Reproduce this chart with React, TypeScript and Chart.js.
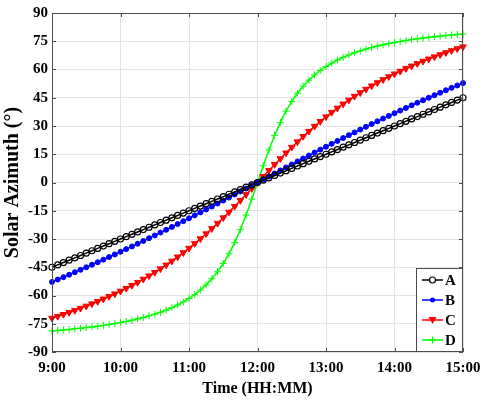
import React, { useEffect, useRef } from "react";
import { Chart, registerables } from "chart.js";

Chart.register(...registerables);

const times = [
  "9:00","9:05","9:10","9:15","9:20","9:25","9:30","9:35","9:40","9:45","9:50","9:55",
  "10:00","10:05","10:10","10:15","10:20","10:25","10:30","10:35","10:40","10:45","10:50","10:55",
  "11:00","11:05","11:10","11:15","11:20","11:25","11:30","11:35","11:40","11:45","11:50","11:55",
  "12:00","12:05","12:10","12:15","12:20","12:25","12:30","12:35","12:40","12:45","12:50","12:55",
  "13:00","13:05","13:10","13:15","13:20","13:25","13:30","13:35","13:40","13:45","13:50","13:55",
  "14:00","14:05","14:10","14:15","14:20","14:25","14:30","14:35","14:40","14:45","14:50","14:55",
  "15:00",
];

const hourLabels = ["9:00", "10:00", "11:00", "12:00", "13:00", "14:00", "15:00"];
const yTicks = [-90, -75, -60, -45, -30, -15, 0, 15, 30, 45, 60, 75, 90];

const seriesA = [
  -45, -43.75, -42.5, -41.25, -40, -38.75, -37.5, -36.25, -35, -33.75, -32.5, -31.25,
  -30, -28.75, -27.5, -26.25, -25, -23.75, -22.5, -21.25, -20, -18.75, -17.5, -16.25,
  -15, -13.75, -12.5, -11.25, -10, -8.75, -7.5, -6.25, -5, -3.75, -2.5, -1.25,
  0, 1.25, 2.5, 3.75, 5, 6.25, 7.5, 8.75, 10, 11.25, 12.5, 13.75,
  15, 16.25, 17.5, 18.75, 20, 21.25, 22.5, 23.75, 25, 26.25, 27.5, 28.75,
  30, 31.25, 32.5, 33.75, 35, 36.25, 37.5, 38.75, 40, 41.25, 42.5, 43.75,
  45,
];

const seriesB = [
  -52.79, -51.53, -50.25, -48.96, -47.65, -46.34, -45.01, -43.67, -42.33, -40.96, -39.58, -38.19,
  -36.78, -35.37, -33.94, -32.5, -31.04, -29.57, -28.1, -26.61, -25.11, -23.6, -22.07, -20.54,
  -19.0, -17.45, -15.89, -14.32, -12.75, -11.17, -9.59, -8.0, -6.4, -4.8, -3.2, -1.6,
  0, 1.6, 3.2, 4.8, 6.4, 8.0, 9.59, 11.17, 12.75, 14.32, 15.89, 17.45,
  19.0, 20.54, 22.07, 23.6, 25.11, 26.61, 28.1, 29.57, 31.04, 32.5, 33.94, 35.37,
  36.78, 38.19, 39.58, 40.96, 42.33, 43.67, 45.01, 46.34, 47.65, 48.96, 50.25, 51.53,
  52.79,
];

const seriesC = [
  -72.06, -71.06, -70.03, -68.97, -67.89, -66.75, -65.59, -64.4, -63.16, -61.86, -60.52, -59.12,
  -57.68, -56.18, -54.62, -53.0, -51.31, -49.55, -47.7, -45.79, -43.79, -41.7, -39.52, -37.25,
  -34.89, -32.42, -29.86, -27.21, -24.47, -21.63, -18.72, -15.72, -12.66, -9.55, -6.39, -3.2,
  0, 3.2, 6.39, 9.55, 12.66, 15.72, 18.72, 21.63, 24.47, 27.21, 29.86, 32.42,
  34.89, 37.25, 39.52, 41.7, 43.79, 45.79, 47.7, 49.55, 51.31, 53.0, 54.62, 56.18,
  57.68, 59.12, 60.52, 61.86, 63.16, 64.4, 65.59, 66.75, 67.89, 68.97, 70.03, 71.06,
  72.06,
];

const seriesD = [
  -78.8, -78.55, -78.29, -78.01, -77.71, -77.39, -77.05, -76.68, -76.28, -75.86, -75.4, -74.9,
  -74.36, -73.77, -73.13, -72.44, -71.67, -70.83, -69.9, -68.88, -67.74, -66.46, -65.04, -63.42,
  -61.59, -59.5, -57.1, -54.34, -51.12, -47.38, -43.0, -37.87, -31.91, -25.04, -17.31, -8.86,
  0, 8.86, 17.31, 25.04, 31.91, 37.87, 43.0, 47.38, 51.12, 54.34, 57.1, 59.5,
  61.59, 63.42, 65.04, 66.46, 67.74, 68.88, 69.9, 70.83, 71.67, 72.44, 73.13, 73.77,
  74.36, 74.9, 75.4, 75.86, 76.28, 76.68, 77.05, 77.39, 77.71, 78.01, 78.29, 78.55,
  78.8,
];

const seriesNames = ["A", "B", "C", "D"];

const FONT = "'Liberation Serif', 'Times New Roman', serif";

function toMinutes(t: string): number {
  const [h, m] = t.split(":").map(Number);
  return (h - 9) * 60 + m;
}

type MarkerKind = "circle" | "dot" | "tri" | "plus";

function drawMarker(ctx: CanvasRenderingContext2D, kind: MarkerKind, color: string, x: number, y: number) {
  ctx.save();
  ctx.strokeStyle = color;
  ctx.fillStyle = color;
  ctx.lineWidth = 1.2;
  ctx.beginPath();
  if (kind === "circle") {
    ctx.arc(x, y, 3, 0, Math.PI * 2);
    ctx.fillStyle = "#fff";
    ctx.fill();
    ctx.stroke();
  } else if (kind === "dot") {
    ctx.arc(x, y, 2.5, 0, Math.PI * 2);
    ctx.fill();
  } else if (kind === "tri") {
    ctx.moveTo(x - 4, y - 3);
    ctx.lineTo(x + 4, y - 3);
    ctx.lineTo(x, y + 4);
    ctx.closePath();
    ctx.fill();
  } else {
    ctx.moveTo(x - 3.5, y);
    ctx.lineTo(x + 3.5, y);
    ctx.moveTo(x, y - 3.5);
    ctx.lineTo(x, y + 3.5);
    ctx.stroke();
  }
  ctx.restore();
}

const markerKinds: MarkerKind[] = ["circle", "dot", "tri", "plus"];
const colors = ["#000000", "#0000ff", "#ff0000", "#00ff00"];

const boxPlugin = {
  id: "boxPlugin",
  afterDatasetsDraw(chart: any) {
    const { ctx, chartArea } = chart;
    const { left, right, top, bottom } = chartArea;
    const xs = chart.scales.x;
    const ys = chart.scales.y;
    ctx.save();
    ctx.strokeStyle = "#4d4d4d";
    ctx.lineWidth = 1;
    ctx.strokeRect(left + 0.5, top + 0.5, right - left - 1, bottom - top - 1);
    ctx.beginPath();
    const tl = 4;
    hourLabels.forEach((_, i) => {
      const px = Math.round(xs.getPixelForValue(i * 60)) + 0.5;
      ctx.moveTo(px, bottom);
      ctx.lineTo(px, bottom - tl);
      ctx.moveTo(px, top);
      ctx.lineTo(px, top + tl);
    });
    yTicks.forEach((v) => {
      const py = Math.round(ys.getPixelForValue(v)) + 0.5;
      ctx.moveTo(left, py);
      ctx.lineTo(left + tl, py);
      ctx.moveTo(right, py);
      ctx.lineTo(right - tl, py);
    });
    ctx.stroke();
    ctx.restore();
  },
  afterDraw(chart: any) {
    const { ctx, chartArea } = chart;
    const { right, bottom } = chartArea;
    const w = 47;
    const rowH = 20;
    const n = chart.data.datasets.length;
    const h = rowH * n + 4;
    const bx = right - w;
    const by = bottom - h;
    ctx.save();
    ctx.fillStyle = "#ffffff";
    ctx.fillRect(bx, by, w, h);
    ctx.strokeStyle = "#4d4d4d";
    ctx.lineWidth = 1;
    ctx.strokeRect(bx + 0.5, by + 0.5, w - 1, h - 1);
    chart.data.datasets.forEach((ds: any, i: number) => {
      const cy = by + 2 + rowH * i + rowH / 2;
      ctx.strokeStyle = ds.borderColor;
      ctx.lineWidth = 1.5;
      ctx.beginPath();
      ctx.moveTo(bx + 6, cy);
      ctx.lineTo(bx + 27, cy);
      ctx.stroke();
      drawMarker(ctx, markerKinds[i], ds.borderColor, bx + 16.5, cy);
      ctx.fillStyle = "#000";
      ctx.font = `bold 15px ${FONT}`;
      ctx.textAlign = "left";
      ctx.textBaseline = "middle";
      ctx.fillText(ds.label, bx + 29, cy + 1);
    });
    ctx.restore();
  },
};

export default function App() {
  const ref = useRef<HTMLCanvasElement | null>(null);

  useEffect(() => {
    if (!ref.current) return;
    const xs = times.map(toMinutes);
    const all = [seriesA, seriesB, seriesC, seriesD];
    const pointStyles: any[] = ["circle", "circle", "triangle", "cross"];
    const radii = [3, 2.5, 3.8, 3.5];
    const rotations = [0, 0, 180, 0];
    const datasets = all.map((vals, i) => ({
      label: seriesNames[i],
      data: vals.map((v, j) => ({ x: xs[j], y: v })),
      borderColor: colors[i],
      backgroundColor: i === 0 ? "rgba(255,255,255,0)" : colors[i],
      pointBackgroundColor: i === 0 ? "rgba(255,255,255,0)" : colors[i],
      pointBorderColor: colors[i],
      pointStyle: pointStyles[i],
      pointRadius: radii[i],
      pointRotation: rotations[i],
      pointBorderWidth: i === 0 ? 1.2 : 1,
      borderWidth: 1.5,
      tension: 0,
      clip: false as any,
    }));

    const chart = new Chart(ref.current, {
      type: "line",
      data: { datasets },
      plugins: [boxPlugin],
      options: {
        animation: false,
        responsive: false,
        devicePixelRatio: 1,
        layout: { padding: { top: 13, right: 19, left: 0, bottom: 0 } },
        plugins: {
          legend: { display: false },
          tooltip: { enabled: false },
        },
        scales: {
          x: {
            type: "linear",
            min: 0,
            max: 360,
            afterFit: (s: any) => {
              s.height = 48;
              s.paddingLeft = 0;
              s.paddingRight = 0;
            },
            afterBuildTicks: (s: any) => {
              s.ticks = hourLabels.map((_, i) => ({ value: i * 60 }));
            },
            ticks: {
              callback: (v: any) => hourLabels[Math.round(Number(v) / 60)],
              color: "#000",
              padding: 7,
              maxRotation: 0,
              font: { family: FONT, size: 15, weight: "bold" },
            },
            grid: { color: "#e3e3e3", drawTicks: false, lineWidth: 1 },
            border: { display: false },
            title: {
              display: true,
              text: "Time (HH:MM)",
              color: "#000",
              padding: { top: 0, bottom: 2 },
              font: { family: FONT, size: 16, weight: "bold" },
            },
          },
          y: {
            type: "linear",
            min: -90,
            max: 90,
            afterFit: (s: any) => {
              s.width = 52;
              s.paddingTop = 0;
              s.paddingBottom = 0;
            },
            afterBuildTicks: (s: any) => {
              s.ticks = yTicks.map((v) => ({ value: v }));
            },
            ticks: {
              color: "#000",
              padding: 4,
              font: { family: FONT, size: 15, weight: "bold" },
            },
            grid: { color: "#e3e3e3", drawTicks: false, lineWidth: 1 },
            border: { display: false },
            title: {
              display: true,
              text: "Solar Azimuth (°)",
              color: "#000",
              padding: { top: 1, bottom: 0 },
              font: { family: FONT, size: 20, weight: "bold" },
            },
          },
        },
      } as any,
    });
    return () => chart.destroy();
  }, []);

  return (
    <div style={{ position: "absolute", left: 0, top: 0, width: 482, height: 400, background: "#fff" }}>
      <canvas ref={ref} width={482} height={400} />
    </div>
  );
}
